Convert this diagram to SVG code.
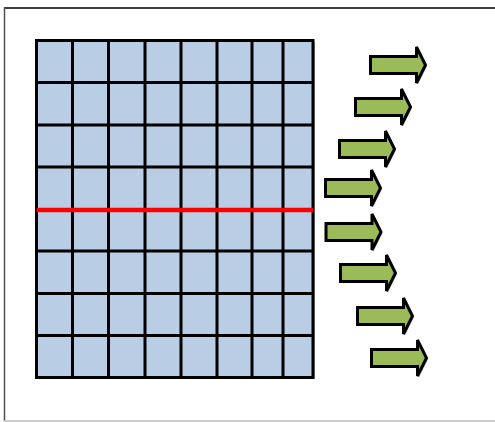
<svg xmlns="http://www.w3.org/2000/svg" width="495" height="422" viewBox="0 0 495 422">
<style>
.grid{stroke:#000;stroke-width:3;fill:none}
.arrow{fill:#9bbb59;stroke:#000;stroke-width:3;stroke-linejoin:miter}
.shadow{fill:#9a9a9a;opacity:0.6}
</style>
<defs>
<path id="arr" d="M0,-8.5 H46 V-18 L55,0 L46,18 V8.5 H0 Z"/>
</defs>
<rect x="0" y="0" width="495" height="422" fill="#fff"/>
<g id="frame">
<line x1="4.5" y1="8" x2="495" y2="8" stroke="#404040" stroke-width="2"/>
<line x1="4.5" y1="7" x2="4.5" y2="421" stroke="#505050" stroke-width="1.5"/>
<line x1="4" y1="421" x2="495" y2="421" stroke="#bdbdbd" stroke-width="1.5"/>
</g>
<g id="grid">
<rect x="38" y="42" width="277" height="337" fill="#a8a8a8"/>
<rect x="36.5" y="40.5" width="276.5" height="337" fill="#b9cde5"/>
<g class="grid">
<rect x="36.5" y="40.5" width="276.5" height="337"/>
<path d="M72.5,40.5V377.5M108.5,40.5V377.5M145,40.5V377.5M181,40.5V377.5M217,40.5V377.5M252,40.5V377.5M283,40.5V377.5"/>
<path d="M36.5,82.5H313M36.5,125H313M36.5,167H313M36.5,251H313M36.5,293.5H313M36.5,335.5H313"/>
</g>
<line x1="36.5" y1="210" x2="313" y2="210" stroke="#ff0000" stroke-width="4.5"/>
</g>
<g id="arrows">
<g id="a1" transform="translate(370.5,65)"><use href="#arr" class="shadow" x="1.5" y="1.5"/><use href="#arr" class="arrow"/></g>
<g id="a2" transform="translate(355.5,107)"><use href="#arr" class="shadow" x="1.5" y="1.5"/><use href="#arr" class="arrow"/></g>
<g id="a3" transform="translate(339.5,149)"><use href="#arr" class="shadow" x="1.5" y="1.5"/><use href="#arr" class="arrow"/></g>
<g id="a4" transform="translate(325.5,188)"><use href="#arr" class="shadow" x="1.5" y="1.5"/><use href="#arr" class="arrow"/></g>
<g id="a5" transform="translate(326,232)"><use href="#arr" class="shadow" x="1.5" y="1.5"/><use href="#arr" class="arrow"/></g>
<g id="a6" transform="translate(340.5,273)"><use href="#arr" class="shadow" x="1.5" y="1.5"/><use href="#arr" class="arrow"/></g>
<g id="a7" transform="translate(357.5,316)"><use href="#arr" class="shadow" x="1.5" y="1.5"/><use href="#arr" class="arrow"/></g>
<g id="a8" transform="translate(371.5,358)"><use href="#arr" class="shadow" x="1.5" y="1.5"/><use href="#arr" class="arrow"/></g>
</g>
</svg>
